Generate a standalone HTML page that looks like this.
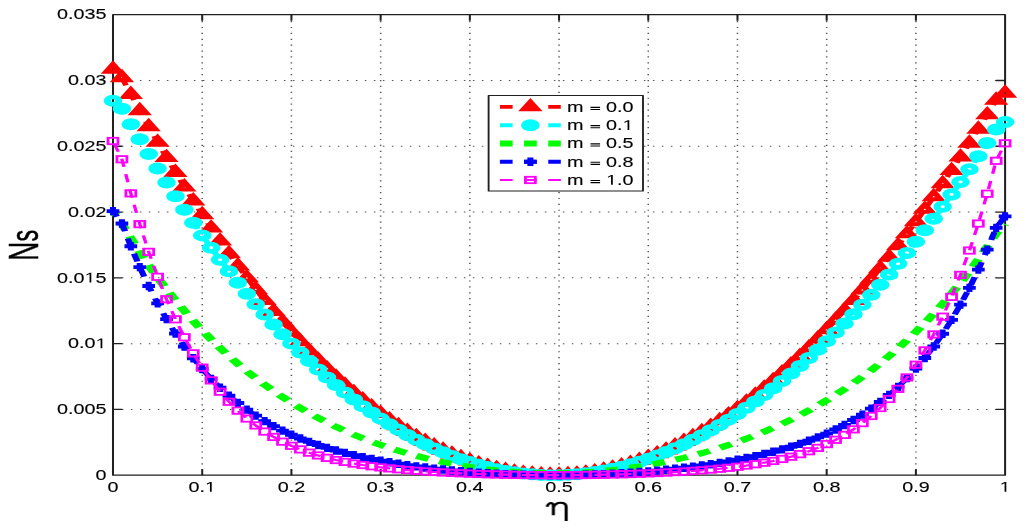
<!DOCTYPE html><html><head><meta charset="utf-8"><style>html,body{margin:0;padding:0;background:#fff;}svg{display:block;filter:blur(0.35px);}text{font-family:"Liberation Sans",sans-serif;}</style></head><body>
<svg width="1024" height="530" viewBox="0 0 1024 530">
<rect width="1024" height="530" fill="#fff"/>
<g transform="scale(1.55,1)">
<g stroke="#555" stroke-width="1.0" fill="none">
<line x1="130.46" y1="15.7" x2="130.46" y2="475.2" stroke-dasharray="1.2 4.6960" stroke-dashoffset="0.6"/>
<line x1="188.01" y1="15.7" x2="188.01" y2="475.2" stroke-dasharray="1.2 4.6960" stroke-dashoffset="0.6"/>
<line x1="245.57" y1="15.7" x2="245.57" y2="475.2" stroke-dasharray="1.2 4.6960" stroke-dashoffset="0.6"/>
<line x1="303.12" y1="15.7" x2="303.12" y2="475.2" stroke-dasharray="1.2 4.6960" stroke-dashoffset="0.6"/>
<line x1="360.68" y1="15.7" x2="360.68" y2="475.2" stroke-dasharray="1.2 4.6960" stroke-dashoffset="0.6"/>
<line x1="418.23" y1="15.7" x2="418.23" y2="475.2" stroke-dasharray="1.2 4.6960" stroke-dashoffset="0.6"/>
<line x1="475.79" y1="15.7" x2="475.79" y2="475.2" stroke-dasharray="1.2 4.6960" stroke-dashoffset="0.6"/>
<line x1="533.34" y1="15.7" x2="533.34" y2="475.2" stroke-dasharray="1.2 4.6960" stroke-dashoffset="0.6"/>
<line x1="590.9" y1="15.7" x2="590.9" y2="475.2" stroke-dasharray="1.2 4.6960" stroke-dashoffset="0.6"/>
<line x1="73.3226" y1="409.41" x2="648.45" y2="409.41" stroke-dasharray="1.0 4.80645" stroke-dashoffset="0.5"/>
<line x1="73.3226" y1="343.63" x2="648.45" y2="343.63" stroke-dasharray="1.0 4.80645" stroke-dashoffset="0.5"/>
<line x1="73.3226" y1="277.84" x2="648.45" y2="277.84" stroke-dasharray="1.0 4.80645" stroke-dashoffset="0.5"/>
<line x1="73.3226" y1="212.06" x2="648.45" y2="212.06" stroke-dasharray="1.0 4.80645" stroke-dashoffset="0.5"/>
<line x1="73.3226" y1="146.27" x2="648.45" y2="146.27" stroke-dasharray="1.0 4.80645" stroke-dashoffset="0.5"/>
<line x1="73.3226" y1="80.49" x2="648.45" y2="80.49" stroke-dasharray="1.0 4.80645" stroke-dashoffset="0.5"/>
</g>
<g stroke="#202020" stroke-width="1.3" fill="none" stroke-linecap="square" stroke-linejoin="round">
<rect x="72.9" y="14.7" width="575.55" height="460.5"/>
<path d="M130.46,475.2v-6.0M130.46,14.7v6.0M188.01,475.2v-6.0M188.01,14.7v6.0M245.57,475.2v-6.0M245.57,14.7v6.0M303.12,475.2v-6.0M303.12,14.7v6.0M360.68,475.2v-6.0M360.68,14.7v6.0M418.23,475.2v-6.0M418.23,14.7v6.0M475.79,475.2v-6.0M475.79,14.7v6.0M533.34,475.2v-6.0M533.34,14.7v6.0M590.9,475.2v-6.0M590.9,14.7v6.0M72.9,409.41h6.0M648.45,409.41h-6.0M72.9,343.63h6.0M648.45,343.63h-6.0M72.9,277.84h6.0M648.45,277.84h-6.0M72.9,212.06h6.0M648.45,212.06h-6.0M72.9,146.27h6.0M648.45,146.27h-6.0M72.9,80.49h6.0M648.45,80.49h-6.0" stroke-linecap="butt"/>
</g>
<path d="M72.9,69.2 L78.66,77.7 L84.41,94.44 L90.17,110.8 L95.93,126.78 L101.68,142.38 L107.44,157.6 L113.19,172.45 L118.95,186.93 L124.7,201.03 L130.46,214.76 L136.21,228.12 L141.97,241.11 L147.72,253.74 L153.48,266 L159.24,277.89 L164.99,289.43 L170.75,300.6 L176.5,311.41 L182.26,321.87 L188.01,331.96 L193.77,341.7 L199.52,351.09 L205.28,360.13 L211.03,368.81 L216.79,377.14 L222.55,385.12 L228.3,392.76 L234.06,400.05 L239.81,406.99 L245.57,413.59 L251.32,419.84 L257.08,425.76 L262.83,431.33 L268.59,436.56 L274.35,441.46 L280.1,446.02 L285.86,450.25 L291.61,454.13 L297.37,457.69 L303.12,460.92 L308.88,463.81 L314.63,466.37 L320.39,468.61 L326.14,470.51 L331.9,472.09 L337.66,473.35 L343.41,474.28 L349.17,474.89 L354.92,475.18 L360.68,475.14 L366.43,474.79 L372.19,474.11 L377.94,473.12 L383.7,471.81 L389.45,470.19 L395.21,468.25 L400.97,465.99 L406.72,463.43 L412.48,460.55 L418.23,457.36 L423.99,453.87 L429.74,450.06 L435.5,445.94 L441.25,441.52 L447.01,436.79 L452.77,431.76 L458.52,426.43 L464.28,420.79 L470.03,414.84 L475.79,408.6 L481.54,402.06 L487.3,395.21 L493.05,388.07 L498.81,380.63 L504.56,372.89 L510.32,364.86 L516.08,356.53 L521.83,347.91 L527.59,338.99 L533.34,329.78 L539.1,320.28 L544.85,310.49 L550.61,300.41 L556.36,290.04 L562.12,279.37 L567.87,268.43 L573.63,257.19 L579.39,245.67 L585.14,233.86 L590.9,221.77 L596.65,209.39 L602.41,196.73 L608.16,183.79 L613.92,170.57 L619.67,157.06 L625.43,143.28 L631.19,129.21 L636.94,114.87 L642.7,100.25 L648.45,93.2" fill="none" stroke="#ff0000" stroke-width="3.6" stroke-dasharray="8.26 7.3" stroke-dashoffset="5.42" stroke-linejoin="round"/>
<g fill="#ff0000" fill-rule="evenodd"><path d="M0,-8.93 L7.85,4.47 L-7.85,4.47ZM0,-0.98 L-0.86,0.49 L0.86,0.49Z" transform="translate(72.9,69.2)"/><path d="M0,-8.93 L7.85,4.47 L-7.85,4.47ZM0,-0.98 L-0.86,0.49 L0.86,0.49Z" transform="translate(78.66,77.7)"/><path d="M0,-8.93 L7.85,4.47 L-7.85,4.47ZM0,-0.98 L-0.86,0.49 L0.86,0.49Z" transform="translate(84.41,94.44)"/><path d="M0,-8.93 L7.85,4.47 L-7.85,4.47ZM0,-0.98 L-0.86,0.49 L0.86,0.49Z" transform="translate(90.17,110.8)"/><path d="M0,-8.93 L7.85,4.47 L-7.85,4.47ZM0,-0.98 L-0.86,0.49 L0.86,0.49Z" transform="translate(95.93,126.78)"/><path d="M0,-8.93 L7.85,4.47 L-7.85,4.47ZM0,-0.98 L-0.86,0.49 L0.86,0.49Z" transform="translate(101.68,142.38)"/><path d="M0,-8.93 L7.85,4.47 L-7.85,4.47ZM0,-0.98 L-0.86,0.49 L0.86,0.49Z" transform="translate(107.44,157.6)"/><path d="M0,-8.93 L7.85,4.47 L-7.85,4.47ZM0,-0.98 L-0.86,0.49 L0.86,0.49Z" transform="translate(113.19,172.45)"/><path d="M0,-8.93 L7.85,4.47 L-7.85,4.47ZM0,-0.98 L-0.86,0.49 L0.86,0.49Z" transform="translate(118.95,186.93)"/><path d="M0,-8.93 L7.85,4.47 L-7.85,4.47ZM0,-0.98 L-0.86,0.49 L0.86,0.49Z" transform="translate(124.7,201.03)"/><path d="M0,-8.93 L7.85,4.47 L-7.85,4.47ZM0,-0.98 L-0.86,0.49 L0.86,0.49Z" transform="translate(130.46,214.76)"/><path d="M0,-8.93 L7.85,4.47 L-7.85,4.47ZM0,-0.98 L-0.86,0.49 L0.86,0.49Z" transform="translate(136.21,228.12)"/><path d="M0,-8.93 L7.85,4.47 L-7.85,4.47ZM0,-0.98 L-0.86,0.49 L0.86,0.49Z" transform="translate(141.97,241.11)"/><path d="M0,-8.93 L7.85,4.47 L-7.85,4.47ZM0,-0.98 L-0.86,0.49 L0.86,0.49Z" transform="translate(147.72,253.74)"/><path d="M0,-8.93 L7.85,4.47 L-7.85,4.47ZM0,-0.98 L-0.86,0.49 L0.86,0.49Z" transform="translate(153.48,266)"/><path d="M0,-8.93 L7.85,4.47 L-7.85,4.47ZM0,-0.98 L-0.86,0.49 L0.86,0.49Z" transform="translate(159.24,277.89)"/><path d="M0,-8.93 L7.85,4.47 L-7.85,4.47ZM0,-0.98 L-0.86,0.49 L0.86,0.49Z" transform="translate(164.99,289.43)"/><path d="M0,-8.93 L7.85,4.47 L-7.85,4.47ZM0,-0.98 L-0.86,0.49 L0.86,0.49Z" transform="translate(170.75,300.6)"/><path d="M0,-8.93 L7.85,4.47 L-7.85,4.47ZM0,-0.98 L-0.86,0.49 L0.86,0.49Z" transform="translate(176.5,311.41)"/><path d="M0,-8.93 L7.85,4.47 L-7.85,4.47ZM0,-0.98 L-0.86,0.49 L0.86,0.49Z" transform="translate(182.26,321.87)"/><path d="M0,-8.93 L7.85,4.47 L-7.85,4.47ZM0,-0.98 L-0.86,0.49 L0.86,0.49Z" transform="translate(188.01,331.96)"/><path d="M0,-8.93 L7.85,4.47 L-7.85,4.47ZM0,-0.98 L-0.86,0.49 L0.86,0.49Z" transform="translate(193.77,341.7)"/><path d="M0,-8.93 L7.85,4.47 L-7.85,4.47ZM0,-0.98 L-0.86,0.49 L0.86,0.49Z" transform="translate(199.52,351.09)"/><path d="M0,-8.93 L7.85,4.47 L-7.85,4.47ZM0,-0.98 L-0.86,0.49 L0.86,0.49Z" transform="translate(205.28,360.13)"/><path d="M0,-8.93 L7.85,4.47 L-7.85,4.47ZM0,-0.98 L-0.86,0.49 L0.86,0.49Z" transform="translate(211.03,368.81)"/><path d="M0,-8.93 L7.85,4.47 L-7.85,4.47ZM0,-0.98 L-0.86,0.49 L0.86,0.49Z" transform="translate(216.79,377.14)"/><path d="M0,-8.93 L7.85,4.47 L-7.85,4.47ZM0,-0.98 L-0.86,0.49 L0.86,0.49Z" transform="translate(222.55,385.12)"/><path d="M0,-8.93 L7.85,4.47 L-7.85,4.47ZM0,-0.98 L-0.86,0.49 L0.86,0.49Z" transform="translate(228.3,392.76)"/><path d="M0,-8.93 L7.85,4.47 L-7.85,4.47ZM0,-0.98 L-0.86,0.49 L0.86,0.49Z" transform="translate(234.06,400.05)"/><path d="M0,-8.93 L7.85,4.47 L-7.85,4.47ZM0,-0.98 L-0.86,0.49 L0.86,0.49Z" transform="translate(239.81,406.99)"/><path d="M0,-8.93 L7.85,4.47 L-7.85,4.47ZM0,-0.98 L-0.86,0.49 L0.86,0.49Z" transform="translate(245.57,413.59)"/><path d="M0,-8.93 L7.85,4.47 L-7.85,4.47ZM0,-0.98 L-0.86,0.49 L0.86,0.49Z" transform="translate(251.32,419.84)"/><path d="M0,-8.93 L7.85,4.47 L-7.85,4.47ZM0,-0.98 L-0.86,0.49 L0.86,0.49Z" transform="translate(257.08,425.76)"/><path d="M0,-8.93 L7.85,4.47 L-7.85,4.47ZM0,-0.98 L-0.86,0.49 L0.86,0.49Z" transform="translate(262.83,431.33)"/><path d="M0,-8.93 L7.85,4.47 L-7.85,4.47ZM0,-0.98 L-0.86,0.49 L0.86,0.49Z" transform="translate(268.59,436.56)"/><path d="M0,-8.93 L7.85,4.47 L-7.85,4.47ZM0,-0.98 L-0.86,0.49 L0.86,0.49Z" transform="translate(274.35,441.46)"/><path d="M0,-8.93 L7.85,4.47 L-7.85,4.47ZM0,-0.98 L-0.86,0.49 L0.86,0.49Z" transform="translate(280.1,446.02)"/><path d="M0,-8.93 L7.85,4.47 L-7.85,4.47ZM0,-0.98 L-0.86,0.49 L0.86,0.49Z" transform="translate(285.86,450.25)"/><path d="M0,-8.93 L7.85,4.47 L-7.85,4.47ZM0,-0.98 L-0.86,0.49 L0.86,0.49Z" transform="translate(291.61,454.13)"/><path d="M0,-8.93 L7.85,4.47 L-7.85,4.47ZM0,-0.98 L-0.86,0.49 L0.86,0.49Z" transform="translate(297.37,457.69)"/><path d="M0,-8.93 L7.85,4.47 L-7.85,4.47ZM0,-0.98 L-0.86,0.49 L0.86,0.49Z" transform="translate(303.12,460.92)"/><path d="M0,-8.93 L7.85,4.47 L-7.85,4.47ZM0,-0.98 L-0.86,0.49 L0.86,0.49Z" transform="translate(308.88,463.81)"/><path d="M0,-8.93 L7.85,4.47 L-7.85,4.47ZM0,-0.98 L-0.86,0.49 L0.86,0.49Z" transform="translate(314.63,466.37)"/><path d="M0,-8.93 L7.85,4.47 L-7.85,4.47ZM0,-0.98 L-0.86,0.49 L0.86,0.49Z" transform="translate(320.39,468.61)"/><path d="M0,-8.93 L7.85,4.47 L-7.85,4.47ZM0,-0.98 L-0.86,0.49 L0.86,0.49Z" transform="translate(326.14,470.51)"/><path d="M0,-8.93 L7.85,4.47 L-7.85,4.47ZM0,-0.98 L-0.86,0.49 L0.86,0.49Z" transform="translate(331.9,472.09)"/><path d="M0,-8.93 L7.85,4.47 L-7.85,4.47ZM0,-0.98 L-0.86,0.49 L0.86,0.49Z" transform="translate(337.66,473.35)"/><path d="M0,-8.93 L7.85,4.47 L-7.85,4.47ZM0,-0.98 L-0.86,0.49 L0.86,0.49Z" transform="translate(343.41,474.28)"/><path d="M0,-8.93 L7.85,4.47 L-7.85,4.47ZM0,-0.98 L-0.86,0.49 L0.86,0.49Z" transform="translate(349.17,474.89)"/><path d="M0,-8.93 L7.85,4.47 L-7.85,4.47ZM0,-0.98 L-0.86,0.49 L0.86,0.49Z" transform="translate(354.92,475.18)"/><path d="M0,-8.93 L7.85,4.47 L-7.85,4.47ZM0,-0.98 L-0.86,0.49 L0.86,0.49Z" transform="translate(360.68,475.14)"/><path d="M0,-8.93 L7.85,4.47 L-7.85,4.47ZM0,-0.98 L-0.86,0.49 L0.86,0.49Z" transform="translate(366.43,474.79)"/><path d="M0,-8.93 L7.85,4.47 L-7.85,4.47ZM0,-0.98 L-0.86,0.49 L0.86,0.49Z" transform="translate(372.19,474.11)"/><path d="M0,-8.93 L7.85,4.47 L-7.85,4.47ZM0,-0.98 L-0.86,0.49 L0.86,0.49Z" transform="translate(377.94,473.12)"/><path d="M0,-8.93 L7.85,4.47 L-7.85,4.47ZM0,-0.98 L-0.86,0.49 L0.86,0.49Z" transform="translate(383.7,471.81)"/><path d="M0,-8.93 L7.85,4.47 L-7.85,4.47ZM0,-0.98 L-0.86,0.49 L0.86,0.49Z" transform="translate(389.45,470.19)"/><path d="M0,-8.93 L7.85,4.47 L-7.85,4.47ZM0,-0.98 L-0.86,0.49 L0.86,0.49Z" transform="translate(395.21,468.25)"/><path d="M0,-8.93 L7.85,4.47 L-7.85,4.47ZM0,-0.98 L-0.86,0.49 L0.86,0.49Z" transform="translate(400.97,465.99)"/><path d="M0,-8.93 L7.85,4.47 L-7.85,4.47ZM0,-0.98 L-0.86,0.49 L0.86,0.49Z" transform="translate(406.72,463.43)"/><path d="M0,-8.93 L7.85,4.47 L-7.85,4.47ZM0,-0.98 L-0.86,0.49 L0.86,0.49Z" transform="translate(412.48,460.55)"/><path d="M0,-8.93 L7.85,4.47 L-7.85,4.47ZM0,-0.98 L-0.86,0.49 L0.86,0.49Z" transform="translate(418.23,457.36)"/><path d="M0,-8.93 L7.85,4.47 L-7.85,4.47ZM0,-0.98 L-0.86,0.49 L0.86,0.49Z" transform="translate(423.99,453.87)"/><path d="M0,-8.93 L7.85,4.47 L-7.85,4.47ZM0,-0.98 L-0.86,0.49 L0.86,0.49Z" transform="translate(429.74,450.06)"/><path d="M0,-8.93 L7.85,4.47 L-7.85,4.47ZM0,-0.98 L-0.86,0.49 L0.86,0.49Z" transform="translate(435.5,445.94)"/><path d="M0,-8.93 L7.85,4.47 L-7.85,4.47ZM0,-0.98 L-0.86,0.49 L0.86,0.49Z" transform="translate(441.25,441.52)"/><path d="M0,-8.93 L7.85,4.47 L-7.85,4.47ZM0,-0.98 L-0.86,0.49 L0.86,0.49Z" transform="translate(447.01,436.79)"/><path d="M0,-8.93 L7.85,4.47 L-7.85,4.47ZM0,-0.98 L-0.86,0.49 L0.86,0.49Z" transform="translate(452.77,431.76)"/><path d="M0,-8.93 L7.85,4.47 L-7.85,4.47ZM0,-0.98 L-0.86,0.49 L0.86,0.49Z" transform="translate(458.52,426.43)"/><path d="M0,-8.93 L7.85,4.47 L-7.85,4.47ZM0,-0.98 L-0.86,0.49 L0.86,0.49Z" transform="translate(464.28,420.79)"/><path d="M0,-8.93 L7.85,4.47 L-7.85,4.47ZM0,-0.98 L-0.86,0.49 L0.86,0.49Z" transform="translate(470.03,414.84)"/><path d="M0,-8.93 L7.85,4.47 L-7.85,4.47ZM0,-0.98 L-0.86,0.49 L0.86,0.49Z" transform="translate(475.79,408.6)"/><path d="M0,-8.93 L7.85,4.47 L-7.85,4.47ZM0,-0.98 L-0.86,0.49 L0.86,0.49Z" transform="translate(481.54,402.06)"/><path d="M0,-8.93 L7.85,4.47 L-7.85,4.47ZM0,-0.98 L-0.86,0.49 L0.86,0.49Z" transform="translate(487.3,395.21)"/><path d="M0,-8.93 L7.85,4.47 L-7.85,4.47ZM0,-0.98 L-0.86,0.49 L0.86,0.49Z" transform="translate(493.05,388.07)"/><path d="M0,-8.93 L7.85,4.47 L-7.85,4.47ZM0,-0.98 L-0.86,0.49 L0.86,0.49Z" transform="translate(498.81,380.63)"/><path d="M0,-8.93 L7.85,4.47 L-7.85,4.47ZM0,-0.98 L-0.86,0.49 L0.86,0.49Z" transform="translate(504.56,372.89)"/><path d="M0,-8.93 L7.85,4.47 L-7.85,4.47ZM0,-0.98 L-0.86,0.49 L0.86,0.49Z" transform="translate(510.32,364.86)"/><path d="M0,-8.93 L7.85,4.47 L-7.85,4.47ZM0,-0.98 L-0.86,0.49 L0.86,0.49Z" transform="translate(516.08,356.53)"/><path d="M0,-8.93 L7.85,4.47 L-7.85,4.47ZM0,-0.98 L-0.86,0.49 L0.86,0.49Z" transform="translate(521.83,347.91)"/><path d="M0,-8.93 L7.85,4.47 L-7.85,4.47ZM0,-0.98 L-0.86,0.49 L0.86,0.49Z" transform="translate(527.59,338.99)"/><path d="M0,-8.93 L7.85,4.47 L-7.85,4.47ZM0,-0.98 L-0.86,0.49 L0.86,0.49Z" transform="translate(533.34,329.78)"/><path d="M0,-8.93 L7.85,4.47 L-7.85,4.47ZM0,-0.98 L-0.86,0.49 L0.86,0.49Z" transform="translate(539.1,320.28)"/><path d="M0,-8.93 L7.85,4.47 L-7.85,4.47ZM0,-0.98 L-0.86,0.49 L0.86,0.49Z" transform="translate(544.85,310.49)"/><path d="M0,-8.93 L7.85,4.47 L-7.85,4.47ZM0,-0.98 L-0.86,0.49 L0.86,0.49Z" transform="translate(550.61,300.41)"/><path d="M0,-8.93 L7.85,4.47 L-7.85,4.47ZM0,-0.98 L-0.86,0.49 L0.86,0.49Z" transform="translate(556.36,290.04)"/><path d="M0,-8.93 L7.85,4.47 L-7.85,4.47ZM0,-0.98 L-0.86,0.49 L0.86,0.49Z" transform="translate(562.12,279.37)"/><path d="M0,-8.93 L7.85,4.47 L-7.85,4.47ZM0,-0.98 L-0.86,0.49 L0.86,0.49Z" transform="translate(567.87,268.43)"/><path d="M0,-8.93 L7.85,4.47 L-7.85,4.47ZM0,-0.98 L-0.86,0.49 L0.86,0.49Z" transform="translate(573.63,257.19)"/><path d="M0,-8.93 L7.85,4.47 L-7.85,4.47ZM0,-0.98 L-0.86,0.49 L0.86,0.49Z" transform="translate(579.39,245.67)"/><path d="M0,-8.93 L7.85,4.47 L-7.85,4.47ZM0,-0.98 L-0.86,0.49 L0.86,0.49Z" transform="translate(585.14,233.86)"/><path d="M0,-8.93 L7.85,4.47 L-7.85,4.47ZM0,-0.98 L-0.86,0.49 L0.86,0.49Z" transform="translate(590.9,221.77)"/><path d="M0,-8.93 L7.85,4.47 L-7.85,4.47ZM0,-0.98 L-0.86,0.49 L0.86,0.49Z" transform="translate(596.65,209.39)"/><path d="M0,-8.93 L7.85,4.47 L-7.85,4.47ZM0,-0.98 L-0.86,0.49 L0.86,0.49Z" transform="translate(602.41,196.73)"/><path d="M0,-8.93 L7.85,4.47 L-7.85,4.47ZM0,-0.98 L-0.86,0.49 L0.86,0.49Z" transform="translate(608.16,183.79)"/><path d="M0,-8.93 L7.85,4.47 L-7.85,4.47ZM0,-0.98 L-0.86,0.49 L0.86,0.49Z" transform="translate(613.92,170.57)"/><path d="M0,-8.93 L7.85,4.47 L-7.85,4.47ZM0,-0.98 L-0.86,0.49 L0.86,0.49Z" transform="translate(619.67,157.06)"/><path d="M0,-8.93 L7.85,4.47 L-7.85,4.47ZM0,-0.98 L-0.86,0.49 L0.86,0.49Z" transform="translate(625.43,143.28)"/><path d="M0,-8.93 L7.85,4.47 L-7.85,4.47ZM0,-0.98 L-0.86,0.49 L0.86,0.49Z" transform="translate(631.19,129.21)"/><path d="M0,-8.93 L7.85,4.47 L-7.85,4.47ZM0,-0.98 L-0.86,0.49 L0.86,0.49Z" transform="translate(636.94,114.87)"/><path d="M0,-8.93 L7.85,4.47 L-7.85,4.47ZM0,-0.98 L-0.86,0.49 L0.86,0.49Z" transform="translate(642.7,100.25)"/><path d="M0,-8.93 L7.85,4.47 L-7.85,4.47ZM0,-0.98 L-0.86,0.49 L0.86,0.49Z" transform="translate(648.45,93.2)"/></g>
<path d="M72.9,100.7 L78.66,108.69 L84.41,124.18 L90.17,139.31 L95.93,154.09 L101.68,168.51 L107.44,182.58 L113.19,196.31 L118.95,209.68 L124.7,222.7 L130.46,235.38 L136.21,247.71 L141.97,259.71 L147.72,271.36 L153.48,282.67 L159.24,293.64 L164.99,304.28 L170.75,314.58 L176.5,324.54 L182.26,334.18 L188.01,343.48 L193.77,352.46 L199.52,361.1 L205.28,369.42 L211.03,377.41 L216.79,385.08 L222.55,392.43 L228.3,399.46 L234.06,406.16 L239.81,412.55 L245.57,418.62 L251.32,424.37 L257.08,429.81 L262.83,434.93 L268.59,439.74 L274.35,444.24 L280.1,448.43 L285.86,452.31 L291.61,455.88 L297.37,459.15 L303.12,462.11 L308.88,464.77 L314.63,467.12 L320.39,469.17 L326.14,470.92 L331.9,472.37 L337.66,473.52 L343.41,474.37 L349.17,474.92 L354.92,475.18 L360.68,475.14 L366.43,474.81 L372.19,474.19 L377.94,473.27 L383.7,472.07 L389.45,470.57 L395.21,468.78 L400.97,466.71 L406.72,464.34 L412.48,461.7 L418.23,458.76 L423.99,455.54 L429.74,452.04 L435.5,448.25 L441.25,444.18 L447.01,439.83 L452.77,435.2 L458.52,430.29 L464.28,425.1 L470.03,419.63 L475.79,413.89 L481.54,407.86 L487.3,401.56 L493.05,394.99 L498.81,388.14 L504.56,381.02 L510.32,373.62 L516.08,365.95 L521.83,358.01 L527.59,349.8 L533.34,341.32 L539.1,332.56 L544.85,323.54 L550.61,314.25 L556.36,304.69 L562.12,294.87 L567.87,284.77 L573.63,274.41 L579.39,263.79 L585.14,252.9 L590.9,241.74 L596.65,230.32 L602.41,218.64 L608.16,206.69 L613.92,194.48 L619.67,182.01 L625.43,169.28 L631.19,156.28 L636.94,143.03 L642.7,129.51 L648.45,122.1" fill="none" stroke="#00ffff" stroke-width="4.0" stroke-dasharray="8.26 7.3" stroke-dashoffset="8.56" stroke-linejoin="round"/>
<g fill="none" stroke="#00ffff" stroke-width="4.6"><circle cx="72.9" cy="100.7" r="3.7"/><circle cx="78.66" cy="108.69" r="3.7"/><circle cx="84.41" cy="124.18" r="3.7"/><circle cx="90.17" cy="139.31" r="3.7"/><circle cx="95.93" cy="154.09" r="3.7"/><circle cx="101.68" cy="168.51" r="3.7"/><circle cx="107.44" cy="182.58" r="3.7"/><circle cx="113.19" cy="196.31" r="3.7"/><circle cx="118.95" cy="209.68" r="3.7"/><circle cx="124.7" cy="222.7" r="3.7"/><circle cx="130.46" cy="235.38" r="3.7"/><circle cx="136.21" cy="247.71" r="3.7"/><circle cx="141.97" cy="259.71" r="3.7"/><circle cx="147.72" cy="271.36" r="3.7"/><circle cx="153.48" cy="282.67" r="3.7"/><circle cx="159.24" cy="293.64" r="3.7"/><circle cx="164.99" cy="304.28" r="3.7"/><circle cx="170.75" cy="314.58" r="3.7"/><circle cx="176.5" cy="324.54" r="3.7"/><circle cx="182.26" cy="334.18" r="3.7"/><circle cx="188.01" cy="343.48" r="3.7"/><circle cx="193.77" cy="352.46" r="3.7"/><circle cx="199.52" cy="361.1" r="3.7"/><circle cx="205.28" cy="369.42" r="3.7"/><circle cx="211.03" cy="377.41" r="3.7"/><circle cx="216.79" cy="385.08" r="3.7"/><circle cx="222.55" cy="392.43" r="3.7"/><circle cx="228.3" cy="399.46" r="3.7"/><circle cx="234.06" cy="406.16" r="3.7"/><circle cx="239.81" cy="412.55" r="3.7"/><circle cx="245.57" cy="418.62" r="3.7"/><circle cx="251.32" cy="424.37" r="3.7"/><circle cx="257.08" cy="429.81" r="3.7"/><circle cx="262.83" cy="434.93" r="3.7"/><circle cx="268.59" cy="439.74" r="3.7"/><circle cx="274.35" cy="444.24" r="3.7"/><circle cx="280.1" cy="448.43" r="3.7"/><circle cx="285.86" cy="452.31" r="3.7"/><circle cx="291.61" cy="455.88" r="3.7"/><circle cx="297.37" cy="459.15" r="3.7"/><circle cx="303.12" cy="462.11" r="3.7"/><circle cx="308.88" cy="464.77" r="3.7"/><circle cx="314.63" cy="467.12" r="3.7"/><circle cx="320.39" cy="469.17" r="3.7"/><circle cx="326.14" cy="470.92" r="3.7"/><circle cx="331.9" cy="472.37" r="3.7"/><circle cx="337.66" cy="473.52" r="3.7"/><circle cx="343.41" cy="474.37" r="3.7"/><circle cx="349.17" cy="474.92" r="3.7"/><circle cx="354.92" cy="475.18" r="3.7"/><circle cx="360.68" cy="475.14" r="3.7"/><circle cx="366.43" cy="474.81" r="3.7"/><circle cx="372.19" cy="474.19" r="3.7"/><circle cx="377.94" cy="473.27" r="3.7"/><circle cx="383.7" cy="472.07" r="3.7"/><circle cx="389.45" cy="470.57" r="3.7"/><circle cx="395.21" cy="468.78" r="3.7"/><circle cx="400.97" cy="466.71" r="3.7"/><circle cx="406.72" cy="464.34" r="3.7"/><circle cx="412.48" cy="461.7" r="3.7"/><circle cx="418.23" cy="458.76" r="3.7"/><circle cx="423.99" cy="455.54" r="3.7"/><circle cx="429.74" cy="452.04" r="3.7"/><circle cx="435.5" cy="448.25" r="3.7"/><circle cx="441.25" cy="444.18" r="3.7"/><circle cx="447.01" cy="439.83" r="3.7"/><circle cx="452.77" cy="435.2" r="3.7"/><circle cx="458.52" cy="430.29" r="3.7"/><circle cx="464.28" cy="425.1" r="3.7"/><circle cx="470.03" cy="419.63" r="3.7"/><circle cx="475.79" cy="413.89" r="3.7"/><circle cx="481.54" cy="407.86" r="3.7"/><circle cx="487.3" cy="401.56" r="3.7"/><circle cx="493.05" cy="394.99" r="3.7"/><circle cx="498.81" cy="388.14" r="3.7"/><circle cx="504.56" cy="381.02" r="3.7"/><circle cx="510.32" cy="373.62" r="3.7"/><circle cx="516.08" cy="365.95" r="3.7"/><circle cx="521.83" cy="358.01" r="3.7"/><circle cx="527.59" cy="349.8" r="3.7"/><circle cx="533.34" cy="341.32" r="3.7"/><circle cx="539.1" cy="332.56" r="3.7"/><circle cx="544.85" cy="323.54" r="3.7"/><circle cx="550.61" cy="314.25" r="3.7"/><circle cx="556.36" cy="304.69" r="3.7"/><circle cx="562.12" cy="294.87" r="3.7"/><circle cx="567.87" cy="284.77" r="3.7"/><circle cx="573.63" cy="274.41" r="3.7"/><circle cx="579.39" cy="263.79" r="3.7"/><circle cx="585.14" cy="252.9" r="3.7"/><circle cx="590.9" cy="241.74" r="3.7"/><circle cx="596.65" cy="230.32" r="3.7"/><circle cx="602.41" cy="218.64" r="3.7"/><circle cx="608.16" cy="206.69" r="3.7"/><circle cx="613.92" cy="194.48" r="3.7"/><circle cx="619.67" cy="182.01" r="3.7"/><circle cx="625.43" cy="169.28" r="3.7"/><circle cx="631.19" cy="156.28" r="3.7"/><circle cx="636.94" cy="143.03" r="3.7"/><circle cx="642.7" cy="129.51" r="3.7"/><circle cx="648.45" cy="122.1" r="3.7"/></g>
<path d="M72.9,211 L78.66,223.85 L84.41,238.38 L90.17,252.14 L95.93,265.18 L101.68,277.54 L107.44,289.26 L113.19,300.37 L118.95,310.92 L124.7,320.93 L130.46,330.43 L136.21,339.45 L141.97,348.01 L147.72,356.15 L153.48,363.87 L159.24,371.2 L164.99,378.16 L170.75,384.78 L176.5,391.05 L182.26,397.01 L188.01,402.66 L193.77,408.02 L199.52,413.1 L205.28,417.91 L211.03,422.47 L216.79,426.78 L222.55,430.85 L228.3,434.7 L234.06,438.32 L239.81,441.73 L245.57,444.94 L251.32,447.95 L257.08,450.76 L262.83,453.39 L268.59,455.84 L274.35,458.1 L280.1,460.2 L285.86,462.13 L291.61,463.89 L297.37,465.49 L303.12,466.93 L308.88,468.21 L314.63,469.34 L320.39,470.33 L326.14,471.16 L331.9,471.84 L337.66,472.38 L343.41,472.78 L349.17,473.03 L354.92,473.14 L360.68,473.11 L366.43,472.94 L372.19,472.63 L377.94,472.18 L383.7,471.58 L389.45,470.85 L395.21,469.97 L400.97,468.96 L406.72,467.8 L412.48,466.49 L418.23,465.04 L423.99,463.44 L429.74,461.69 L435.5,459.78 L441.25,457.73 L447.01,455.51 L452.77,453.14 L458.52,450.6 L464.28,447.89 L470.03,445.01 L475.79,441.95 L481.54,438.71 L487.3,435.28 L493.05,431.66 L498.81,427.85 L504.56,423.82 L510.32,419.58 L516.08,415.12 L521.83,410.42 L527.59,405.49 L533.34,400.31 L539.1,394.86 L544.85,389.15 L550.61,383.15 L556.36,376.85 L562.12,370.23 L567.87,363.29 L573.63,356 L579.39,348.35 L585.14,340.31 L590.9,331.87 L596.65,323 L602.41,313.69 L608.16,303.9 L613.92,293.6 L619.67,282.78 L625.43,271.39 L631.19,259.4 L636.94,246.78 L642.7,233.48 L648.45,224" fill="none" stroke="#00ff00" stroke-width="6.0" stroke-dasharray="8.26 7.27" stroke-dashoffset="3.51" stroke-linejoin="round"/>
<path d="M72.9,211.1 L78.66,223.43 L84.41,246.25 L90.17,267.08 L95.93,286.07 L101.68,303.37 L107.44,319.12 L113.19,333.45 L118.95,346.48 L124.7,358.31 L130.46,369.06 L136.21,378.83 L141.97,387.69 L147.72,395.73 L153.48,403.02 L159.24,409.64 L164.99,415.66 L170.75,421.12 L176.5,426.08 L182.26,430.6 L188.01,434.71 L193.77,438.45 L199.52,441.87 L205.28,444.99 L211.03,447.85 L216.79,450.47 L222.55,452.87 L228.3,455.08 L234.06,457.12 L239.81,458.99 L245.57,460.72 L251.32,462.31 L257.08,463.78 L262.83,465.14 L268.59,466.39 L274.35,467.54 L280.1,468.6 L285.86,469.57 L291.61,470.46 L297.37,471.26 L303.12,471.99 L308.88,472.64 L314.63,473.21 L320.39,473.71 L326.14,474.13 L331.9,474.49 L337.66,474.77 L343.41,474.98 L349.17,475.12 L354.92,475.19 L360.68,475.19 L366.43,475.12 L372.19,474.98 L377.94,474.77 L383.7,474.5 L389.45,474.15 L395.21,473.73 L400.97,473.24 L406.72,472.69 L412.48,472.06 L418.23,471.36 L423.99,470.58 L429.74,469.73 L435.5,468.8 L441.25,467.79 L447.01,466.7 L452.77,465.51 L458.52,464.23 L464.28,462.84 L470.03,461.35 L475.79,459.73 L481.54,457.98 L487.3,456.09 L493.05,454.04 L498.81,451.81 L504.56,449.39 L510.32,446.76 L516.08,443.89 L521.83,440.76 L527.59,437.33 L533.34,433.58 L539.1,429.47 L544.85,424.97 L550.61,420.02 L556.36,414.58 L562.12,408.61 L567.87,402.05 L573.63,394.83 L579.39,386.89 L585.14,378.17 L590.9,368.58 L596.65,358.05 L602.41,346.48 L608.16,333.79 L613.92,319.87 L619.67,304.62 L625.43,287.91 L631.19,269.64 L636.94,249.66 L642.7,227.85 L648.45,216.4" fill="none" stroke="#0000ff" stroke-width="4.0" stroke-dasharray="8.26 7.37" stroke-dashoffset="2.12" stroke-linejoin="round"/>
<g fill="none" stroke="#0000ff" stroke-width="3.9"><path d="M68.8,211.1h8.2M72.9,206.9v8.4"/><path d="M74.56,223.43h8.2M78.66,219.23v8.4"/><path d="M80.31,246.25h8.2M84.41,242.05v8.4"/><path d="M86.07,267.08h8.2M90.17,262.88v8.4"/><path d="M91.83,286.07h8.2M95.93,281.87v8.4"/><path d="M97.58,303.37h8.2M101.68,299.17v8.4"/><path d="M103.34,319.12h8.2M107.44,314.92v8.4"/><path d="M109.09,333.45h8.2M113.19,329.25v8.4"/><path d="M114.85,346.48h8.2M118.95,342.28v8.4"/><path d="M120.6,358.31h8.2M124.7,354.11v8.4"/><path d="M126.36,369.06h8.2M130.46,364.86v8.4"/><path d="M132.11,378.83h8.2M136.21,374.63v8.4"/><path d="M137.87,387.69h8.2M141.97,383.49v8.4"/><path d="M143.62,395.73h8.2M147.72,391.53v8.4"/><path d="M149.38,403.02h8.2M153.48,398.82v8.4"/><path d="M155.14,409.64h8.2M159.24,405.44v8.4"/><path d="M160.89,415.66h8.2M164.99,411.46v8.4"/><path d="M166.65,421.12h8.2M170.75,416.92v8.4"/><path d="M172.4,426.08h8.2M176.5,421.88v8.4"/><path d="M178.16,430.6h8.2M182.26,426.4v8.4"/><path d="M183.91,434.71h8.2M188.01,430.51v8.4"/><path d="M189.67,438.45h8.2M193.77,434.25v8.4"/><path d="M195.42,441.87h8.2M199.52,437.67v8.4"/><path d="M201.18,444.99h8.2M205.28,440.79v8.4"/><path d="M206.93,447.85h8.2M211.03,443.65v8.4"/><path d="M212.69,450.47h8.2M216.79,446.27v8.4"/><path d="M218.45,452.87h8.2M222.55,448.67v8.4"/><path d="M224.2,455.08h8.2M228.3,450.88v8.4"/><path d="M229.96,457.12h8.2M234.06,452.92v8.4"/><path d="M235.71,458.99h8.2M239.81,454.79v8.4"/><path d="M241.47,460.72h8.2M245.57,456.52v8.4"/><path d="M247.22,462.31h8.2M251.32,458.11v8.4"/><path d="M252.98,463.78h8.2M257.08,459.58v8.4"/><path d="M258.73,465.14h8.2M262.83,460.94v8.4"/><path d="M264.49,466.39h8.2M268.59,462.19v8.4"/><path d="M270.25,467.54h8.2M274.35,463.34v8.4"/><path d="M276,468.6h8.2M280.1,464.4v8.4"/><path d="M281.76,469.57h8.2M285.86,465.37v8.4"/><path d="M287.51,470.46h8.2M291.61,466.26v8.4"/><path d="M293.27,471.26h8.2M297.37,467.06v8.4"/><path d="M299.02,471.99h8.2M303.12,467.79v8.4"/><path d="M304.78,472.64h8.2M308.88,468.44v8.4"/><path d="M310.53,473.21h8.2M314.63,469.01v8.4"/><path d="M316.29,473.71h8.2M320.39,469.51v8.4"/><path d="M322.04,474.13h8.2M326.14,469.93v8.4"/><path d="M327.8,474.49h8.2M331.9,470.29v8.4"/><path d="M333.56,474.77h8.2M337.66,470.57v8.4"/><path d="M339.31,474.98h8.2M343.41,470.78v8.4"/><path d="M345.07,475.12h8.2M349.17,470.92v8.4"/><path d="M350.82,475.19h8.2M354.92,470.99v8.4"/><path d="M356.58,475.19h8.2M360.68,470.99v8.4"/><path d="M362.33,475.12h8.2M366.43,470.92v8.4"/><path d="M368.09,474.98h8.2M372.19,470.78v8.4"/><path d="M373.84,474.77h8.2M377.94,470.57v8.4"/><path d="M379.6,474.5h8.2M383.7,470.3v8.4"/><path d="M385.35,474.15h8.2M389.45,469.95v8.4"/><path d="M391.11,473.73h8.2M395.21,469.53v8.4"/><path d="M396.87,473.24h8.2M400.97,469.04v8.4"/><path d="M402.62,472.69h8.2M406.72,468.49v8.4"/><path d="M408.38,472.06h8.2M412.48,467.86v8.4"/><path d="M414.13,471.36h8.2M418.23,467.16v8.4"/><path d="M419.89,470.58h8.2M423.99,466.38v8.4"/><path d="M425.64,469.73h8.2M429.74,465.53v8.4"/><path d="M431.4,468.8h8.2M435.5,464.6v8.4"/><path d="M437.15,467.79h8.2M441.25,463.59v8.4"/><path d="M442.91,466.7h8.2M447.01,462.5v8.4"/><path d="M448.67,465.51h8.2M452.77,461.31v8.4"/><path d="M454.42,464.23h8.2M458.52,460.03v8.4"/><path d="M460.18,462.84h8.2M464.28,458.64v8.4"/><path d="M465.93,461.35h8.2M470.03,457.15v8.4"/><path d="M471.69,459.73h8.2M475.79,455.53v8.4"/><path d="M477.44,457.98h8.2M481.54,453.78v8.4"/><path d="M483.2,456.09h8.2M487.3,451.89v8.4"/><path d="M488.95,454.04h8.2M493.05,449.84v8.4"/><path d="M494.71,451.81h8.2M498.81,447.61v8.4"/><path d="M500.46,449.39h8.2M504.56,445.19v8.4"/><path d="M506.22,446.76h8.2M510.32,442.56v8.4"/><path d="M511.98,443.89h8.2M516.08,439.69v8.4"/><path d="M517.73,440.76h8.2M521.83,436.56v8.4"/><path d="M523.49,437.33h8.2M527.59,433.13v8.4"/><path d="M529.24,433.58h8.2M533.34,429.38v8.4"/><path d="M535,429.47h8.2M539.1,425.27v8.4"/><path d="M540.75,424.97h8.2M544.85,420.77v8.4"/><path d="M546.51,420.02h8.2M550.61,415.82v8.4"/><path d="M552.26,414.58h8.2M556.36,410.38v8.4"/><path d="M558.02,408.61h8.2M562.12,404.41v8.4"/><path d="M563.77,402.05h8.2M567.87,397.85v8.4"/><path d="M569.53,394.83h8.2M573.63,390.63v8.4"/><path d="M575.29,386.89h8.2M579.39,382.69v8.4"/><path d="M581.04,378.17h8.2M585.14,373.97v8.4"/><path d="M586.8,368.58h8.2M590.9,364.38v8.4"/><path d="M592.55,358.05h8.2M596.65,353.85v8.4"/><path d="M598.31,346.48h8.2M602.41,342.28v8.4"/><path d="M604.06,333.79h8.2M608.16,329.59v8.4"/><path d="M609.82,319.87h8.2M613.92,315.67v8.4"/><path d="M615.57,304.62h8.2M619.67,300.42v8.4"/><path d="M621.33,287.91h8.2M625.43,283.71v8.4"/><path d="M627.09,269.64h8.2M631.19,265.44v8.4"/><path d="M632.84,249.66h8.2M636.94,245.46v8.4"/><path d="M638.6,227.85h8.2M642.7,223.65v8.4"/><path d="M644.35,216.4h8.2M648.45,212.2v8.4"/></g>
<path d="M72.9,141 L78.66,159.27 L84.41,193.37 L90.17,224.14 L95.93,251.87 L101.68,276.82 L107.44,299.22 L113.19,319.3 L118.95,337.27 L124.7,353.33 L130.46,367.64 L136.21,380.39 L141.97,391.71 L147.72,401.76 L153.48,410.65 L159.24,418.51 L164.99,425.45 L170.75,431.56 L176.5,436.94 L182.26,441.67 L188.01,445.81 L193.77,449.45 L199.52,452.64 L205.28,455.43 L211.03,457.88 L216.79,460.03 L222.55,461.91 L228.3,463.56 L234.06,465.01 L239.81,466.29 L245.57,467.41 L251.32,468.41 L257.08,469.29 L262.83,470.08 L268.59,470.78 L274.35,471.41 L280.1,471.97 L285.86,472.47 L291.61,472.91 L297.37,473.31 L303.12,473.67 L308.88,473.98 L314.63,474.26 L320.39,474.49 L326.14,474.7 L331.9,474.86 L337.66,475 L343.41,475.1 L349.17,475.16 L354.92,475.2 L360.68,475.2 L366.43,475.16 L372.19,475.1 L377.94,475 L383.7,474.87 L389.45,474.71 L395.21,474.51 L400.97,474.28 L406.72,474.02 L412.48,473.72 L418.23,473.38 L423.99,472.99 L429.74,472.57 L435.5,472.09 L441.25,471.56 L447.01,470.96 L452.77,470.3 L458.52,469.56 L464.28,468.73 L470.03,467.8 L475.79,466.75 L481.54,465.55 L487.3,464.21 L493.05,462.68 L498.81,460.94 L504.56,458.96 L510.32,456.7 L516.08,454.14 L521.83,451.22 L527.59,447.89 L533.34,444.1 L539.1,439.8 L544.85,434.92 L550.61,429.38 L556.36,423.1 L562.12,416.01 L567.87,408.01 L573.63,398.99 L579.39,388.84 L585.14,377.45 L590.9,364.68 L596.65,350.4 L602.41,334.44 L608.16,316.66 L613.92,296.87 L619.67,274.89 L625.43,250.52 L631.19,223.53 L636.94,193.71 L642.7,160.8 L648.45,143.3" fill="none" stroke="#ff00ff" stroke-width="2.2" stroke-dasharray="8.26 7.33" stroke-dashoffset="12.6" stroke-linejoin="round"/>
<g fill="none" stroke="#ff00ff" stroke-width="1.8"><rect x="69.7" y="137.8" width="6.4" height="6.4"/><rect x="75.46" y="156.07" width="6.4" height="6.4"/><rect x="81.21" y="190.17" width="6.4" height="6.4"/><rect x="86.97" y="220.94" width="6.4" height="6.4"/><rect x="92.73" y="248.67" width="6.4" height="6.4"/><rect x="98.48" y="273.62" width="6.4" height="6.4"/><rect x="104.24" y="296.02" width="6.4" height="6.4"/><rect x="109.99" y="316.1" width="6.4" height="6.4"/><rect x="115.75" y="334.07" width="6.4" height="6.4"/><rect x="121.5" y="350.13" width="6.4" height="6.4"/><rect x="127.26" y="364.44" width="6.4" height="6.4"/><rect x="133.01" y="377.19" width="6.4" height="6.4"/><rect x="138.77" y="388.51" width="6.4" height="6.4"/><rect x="144.52" y="398.56" width="6.4" height="6.4"/><rect x="150.28" y="407.45" width="6.4" height="6.4"/><rect x="156.04" y="415.31" width="6.4" height="6.4"/><rect x="161.79" y="422.25" width="6.4" height="6.4"/><rect x="167.55" y="428.36" width="6.4" height="6.4"/><rect x="173.3" y="433.74" width="6.4" height="6.4"/><rect x="179.06" y="438.47" width="6.4" height="6.4"/><rect x="184.81" y="442.61" width="6.4" height="6.4"/><rect x="190.57" y="446.25" width="6.4" height="6.4"/><rect x="196.32" y="449.44" width="6.4" height="6.4"/><rect x="202.08" y="452.23" width="6.4" height="6.4"/><rect x="207.83" y="454.68" width="6.4" height="6.4"/><rect x="213.59" y="456.83" width="6.4" height="6.4"/><rect x="219.35" y="458.71" width="6.4" height="6.4"/><rect x="225.1" y="460.36" width="6.4" height="6.4"/><rect x="230.86" y="461.81" width="6.4" height="6.4"/><rect x="236.61" y="463.09" width="6.4" height="6.4"/><rect x="242.37" y="464.21" width="6.4" height="6.4"/><rect x="248.12" y="465.21" width="6.4" height="6.4"/><rect x="253.88" y="466.09" width="6.4" height="6.4"/><rect x="259.63" y="466.88" width="6.4" height="6.4"/><rect x="265.39" y="467.58" width="6.4" height="6.4"/><rect x="271.15" y="468.21" width="6.4" height="6.4"/><rect x="276.9" y="468.77" width="6.4" height="6.4"/><rect x="282.66" y="469.27" width="6.4" height="6.4"/><rect x="288.41" y="469.71" width="6.4" height="6.4"/><rect x="294.17" y="470.11" width="6.4" height="6.4"/><rect x="299.92" y="470.47" width="6.4" height="6.4"/><rect x="305.68" y="470.78" width="6.4" height="6.4"/><rect x="311.43" y="471.06" width="6.4" height="6.4"/><rect x="317.19" y="471.29" width="6.4" height="6.4"/><rect x="322.94" y="471.5" width="6.4" height="6.4"/><rect x="328.7" y="471.66" width="6.4" height="6.4"/><rect x="334.46" y="471.8" width="6.4" height="6.4"/><rect x="340.21" y="471.9" width="6.4" height="6.4"/><rect x="345.97" y="471.96" width="6.4" height="6.4"/><rect x="351.72" y="472" width="6.4" height="6.4"/><rect x="357.48" y="472" width="6.4" height="6.4"/><rect x="363.23" y="471.96" width="6.4" height="6.4"/><rect x="368.99" y="471.9" width="6.4" height="6.4"/><rect x="374.74" y="471.8" width="6.4" height="6.4"/><rect x="380.5" y="471.67" width="6.4" height="6.4"/><rect x="386.25" y="471.51" width="6.4" height="6.4"/><rect x="392.01" y="471.31" width="6.4" height="6.4"/><rect x="397.77" y="471.08" width="6.4" height="6.4"/><rect x="403.52" y="470.82" width="6.4" height="6.4"/><rect x="409.28" y="470.52" width="6.4" height="6.4"/><rect x="415.03" y="470.18" width="6.4" height="6.4"/><rect x="420.79" y="469.79" width="6.4" height="6.4"/><rect x="426.54" y="469.37" width="6.4" height="6.4"/><rect x="432.3" y="468.89" width="6.4" height="6.4"/><rect x="438.05" y="468.36" width="6.4" height="6.4"/><rect x="443.81" y="467.76" width="6.4" height="6.4"/><rect x="449.57" y="467.1" width="6.4" height="6.4"/><rect x="455.32" y="466.36" width="6.4" height="6.4"/><rect x="461.08" y="465.53" width="6.4" height="6.4"/><rect x="466.83" y="464.6" width="6.4" height="6.4"/><rect x="472.59" y="463.55" width="6.4" height="6.4"/><rect x="478.34" y="462.35" width="6.4" height="6.4"/><rect x="484.1" y="461.01" width="6.4" height="6.4"/><rect x="489.85" y="459.48" width="6.4" height="6.4"/><rect x="495.61" y="457.74" width="6.4" height="6.4"/><rect x="501.36" y="455.76" width="6.4" height="6.4"/><rect x="507.12" y="453.5" width="6.4" height="6.4"/><rect x="512.88" y="450.94" width="6.4" height="6.4"/><rect x="518.63" y="448.02" width="6.4" height="6.4"/><rect x="524.39" y="444.69" width="6.4" height="6.4"/><rect x="530.14" y="440.9" width="6.4" height="6.4"/><rect x="535.9" y="436.6" width="6.4" height="6.4"/><rect x="541.65" y="431.72" width="6.4" height="6.4"/><rect x="547.41" y="426.18" width="6.4" height="6.4"/><rect x="553.16" y="419.9" width="6.4" height="6.4"/><rect x="558.92" y="412.81" width="6.4" height="6.4"/><rect x="564.67" y="404.81" width="6.4" height="6.4"/><rect x="570.43" y="395.79" width="6.4" height="6.4"/><rect x="576.19" y="385.64" width="6.4" height="6.4"/><rect x="581.94" y="374.25" width="6.4" height="6.4"/><rect x="587.7" y="361.48" width="6.4" height="6.4"/><rect x="593.45" y="347.2" width="6.4" height="6.4"/><rect x="599.21" y="331.24" width="6.4" height="6.4"/><rect x="604.96" y="313.46" width="6.4" height="6.4"/><rect x="610.72" y="293.67" width="6.4" height="6.4"/><rect x="616.47" y="271.69" width="6.4" height="6.4"/><rect x="622.23" y="247.32" width="6.4" height="6.4"/><rect x="627.99" y="220.33" width="6.4" height="6.4"/><rect x="633.74" y="190.51" width="6.4" height="6.4"/><rect x="639.5" y="157.6" width="6.4" height="6.4"/><rect x="645.25" y="140.1" width="6.4" height="6.4"/></g>
<rect x="315.23" y="95.5" width="99.61" height="95.5" fill="#fff" stroke="#202020" stroke-width="1.2" stroke-linejoin="round"/>
<path d="M322.52,106.9H361.81" stroke="#ff0000" stroke-width="3.6" stroke-dasharray="8.2 7.4"/>
<path d="M0,-8.93 L7.85,4.47 L-7.85,4.47Z" transform="translate(342.19,106.9)" fill="#ff0000"/>
<path d="M322.52,125.17H361.81" stroke="#00ffff" stroke-width="4.0" stroke-dasharray="8.2 7.4"/>
<circle cx="342.19" cy="125.17" r="6" fill="#00ffff"/>
<path d="M322.52,143.44H361.81" stroke="#00ff00" stroke-width="6.0" stroke-dasharray="8.2 7.4"/>
<path d="M322.52,161.71H361.81" stroke="#0000ff" stroke-width="4.0" stroke-dasharray="8.2 7.4"/>
<path d="M338.09,161.71h8.2M342.19,157.51v8.4" stroke="#0000ff" stroke-width="3.9"/>
<path d="M322.52,179.98H361.81" stroke="#ff00ff" stroke-width="2.2" stroke-dasharray="8.2 7.4"/>
<rect x="338.99" y="176.78" width="6.4" height="6.4" fill="none" stroke="#ff00ff" stroke-width="1.8"/>
</g>
<g fill="#000" stroke="#000" stroke-width="0.12" style="font-kerning:none" opacity="0.999"><text transform="translate(95.59,479.9) scale(1.5,1.07)" font-size="13.2">0</text><text transform="translate(57.05,414.11) scale(1.5,1.07)" font-size="13.2">0.005</text><text transform="translate(68.06,348.33) scale(1.5,1.07)" font-size="13.2">0.0</text><path d="M515 0V1237L197 1010V1180L530 1409H696V0Z" transform="translate(95.59,348.33) scale(0.009668,-0.006896)"/><text transform="translate(57.05,282.54) scale(1.5,1.07)" font-size="13.2">0.0</text><path d="M515 0V1237L197 1010V1180L530 1409H696V0Z" transform="translate(84.58,282.54) scale(0.009668,-0.006896)"/><text transform="translate(95.59,282.54) scale(1.5,1.07)" font-size="13.2">5</text><text transform="translate(68.06,216.76) scale(1.5,1.07)" font-size="13.2">0.02</text><text transform="translate(57.05,150.97) scale(1.5,1.07)" font-size="13.2">0.025</text><text transform="translate(68.06,85.19) scale(1.5,1.07)" font-size="13.2">0.03</text><text transform="translate(57.05,19.4) scale(1.5,1.07)" font-size="13.2">0.035</text><text transform="translate(107.49,491.7) scale(1.5,1.07)" font-size="13.2">0</text><text transform="translate(188.45,491.7) scale(1.5,1.07)" font-size="13.2">0.</text><path d="M515 0V1237L197 1010V1180L530 1409H696V0Z" transform="translate(204.96,491.7) scale(0.009668,-0.006896)"/><text transform="translate(277.66,491.7) scale(1.5,1.07)" font-size="13.2">0.2</text><text transform="translate(366.87,491.7) scale(1.5,1.07)" font-size="13.2">0.3</text><text transform="translate(456.08,491.7) scale(1.5,1.07)" font-size="13.2">0.4</text><text transform="translate(545.29,491.7) scale(1.5,1.07)" font-size="13.2">0.5</text><text transform="translate(634.5,491.7) scale(1.5,1.07)" font-size="13.2">0.6</text><text transform="translate(723.71,491.7) scale(1.5,1.07)" font-size="13.2">0.7</text><text transform="translate(812.92,491.7) scale(1.5,1.07)" font-size="13.2">0.8</text><text transform="translate(902.13,491.7) scale(1.5,1.07)" font-size="13.2">0.9</text><path d="M515 0V1237L197 1010V1180L530 1409H696V0Z" transform="translate(999.59,491.7) scale(0.009668,-0.006896)"/><text transform="translate(38.36,260.76) scale(1.584,1) rotate(-90)" font-size="26.3" stroke-width="0.35">N</text><text transform="translate(37.82,241.5) scale(1.654,1) rotate(-90)" font-size="23.37" stroke-width="0.35">s</text><path transform="translate(546,0) scale(1.6,1)" fill="none" stroke="#000" stroke-width="1.9" d="M0.6,506.8 Q1.6,502.8 3.2,503 Q4.6,503.3 4.6,506 V515.3 M4.6,507.2 Q6,502.8 9,502.8 Q12.6,502.8 12.6,507 V520.9"/><text transform="translate(567,111.7) scale(1.5,1.07)" font-size="13.2">m </text><path d="M590.49,107.4h9.6M590.49,109.5h9.6" fill="none" stroke-width="1.15"/><text transform="translate(606.06,111.7) scale(1.5,1.07)" font-size="13.2">0.0</text><text transform="translate(567,129.97) scale(1.5,1.07)" font-size="13.2">m </text><path d="M590.49,125.67h9.6M590.49,127.77h9.6" fill="none" stroke-width="1.15"/><text transform="translate(606.06,129.97) scale(1.5,1.07)" font-size="13.2">0.</text><path d="M515 0V1237L197 1010V1180L530 1409H696V0Z" transform="translate(622.57,129.97) scale(0.009668,-0.006896)"/><text transform="translate(567,148.24) scale(1.5,1.07)" font-size="13.2">m </text><path d="M590.49,143.94h9.6M590.49,146.04h9.6" fill="none" stroke-width="1.15"/><text transform="translate(606.06,148.24) scale(1.5,1.07)" font-size="13.2">0.5</text><text transform="translate(567,166.51) scale(1.5,1.07)" font-size="13.2">m </text><path d="M590.49,162.21h9.6M590.49,164.31h9.6" fill="none" stroke-width="1.15"/><text transform="translate(606.06,166.51) scale(1.5,1.07)" font-size="13.2">0.8</text><text transform="translate(567,184.78) scale(1.5,1.07)" font-size="13.2">m </text><path d="M590.49,180.48h9.6M590.49,182.58h9.6" fill="none" stroke-width="1.15"/><path d="M515 0V1237L197 1010V1180L530 1409H696V0Z" transform="translate(606.06,184.78) scale(0.009668,-0.006896)"/><text transform="translate(617.07,184.78) scale(1.5,1.07)" font-size="13.2">.0</text></g>
</svg></body></html>
